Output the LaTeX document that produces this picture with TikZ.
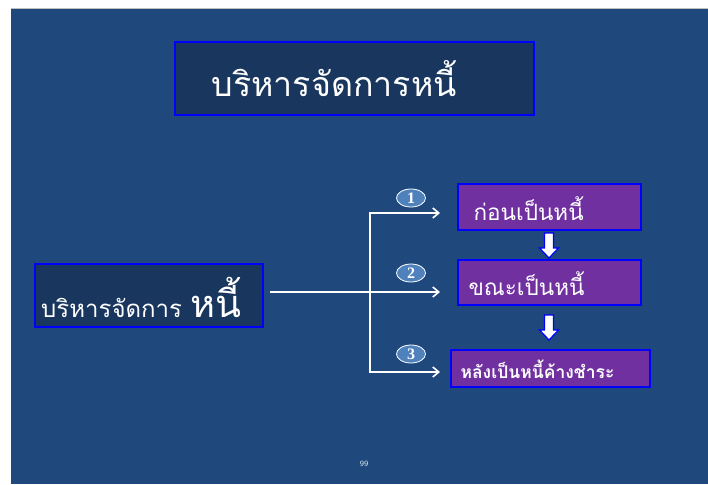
\documentclass[tikz,border=0pt]{standalone}
\usepackage{fontspec}
\usetikzlibrary{shapes.geometric,arrows.meta}
\newfontfamily\thai[Script=Thai]{Loma}
\setmainfont{Liberation Serif}
\definecolor{bgblue}{RGB}{31,73,125}
\definecolor{darkbox}{RGB}{24,54,94}
\definecolor{purp}{RGB}{112,48,160}
\definecolor{circ}{RGB}{79,129,189}
\definecolor{bord}{RGB}{0,0,255}
\begin{document}
\begin{tikzpicture}[x=1pt,y=-1pt,
  darkrect/.style={draw=bord,line width=1.6pt,fill=darkbox},
  purprect/.style={draw=bord,line width=1.2pt,fill=purp},
  conn/.style={draw=white,line width=1.6pt},
  arr/.style={conn,-{Straight Barb[length=6pt,width=10pt,line width=1.6pt]}},
  numc/.style={ellipse,draw=white,line width=0.8pt,fill=circ,minimum width=29pt,minimum height=18pt,inner sep=0pt,text=white,font=\bfseries\fontsize{16}{16}\selectfont},
  dnarrow/.style={draw=bord,line width=1.2pt,fill=white,line join=miter}
]
\useasboundingbox (0,0) rectangle (708,484);
\fill[white] (0,0) rectangle (708,484);
\fill[bgblue] (11,8) rectangle (708,484);
\draw[gray!50,line width=0.6pt] (11,8.3) -- (708,8.3);
% title
\draw[darkrect] (175,42) rectangle (534,115);
\node[text=white,anchor=west,font=\thai\fontsize{34}{34}\selectfont] (title) at (208,79) {บริหารจัดการหนี้};
% left box
\draw[darkrect] (35,264) rectangle (263,327);
\node[text=white,anchor=west,inner sep=0pt] (left) at (41,297) {\thai\fontsize{24}{24}\selectfont บริหารจัดการ \fontsize{38}{38}\selectfont หนี้};
% purple boxes
\draw[purprect] (458,184) rectangle (641,230);
\node[text=white,anchor=west,font=\thai\fontsize{22.5}{22.5}\selectfont] (b1) at (470,209) {ก่อนเป็นหนี้};
\draw[purprect] (458,260) rectangle (641,305);
\node[text=white,anchor=west,font=\thai\fontsize{22.5}{22.5}\selectfont] (b2) at (465,284) {ขณะเป็นหนี้};
\draw[purprect] (451,350) rectangle (650,387);
\node[text=white,anchor=west,font=\thai\bfseries\fontsize{17.5}{17.5}\selectfont] (b3) at (457,369) {หลังเป็นหนี้ค้างชำระ};
% connectors
\coordinate (s) at (270,292);
\coordinate (j) at (370,292);
\coordinate (t) at (370,213);
\coordinate (bt) at (370,372);
\coordinate (e1) at (440,213);
\coordinate (e2) at (440,292);
\coordinate (e3) at (440,372);
\draw[conn] (s) -- (j);
\draw[conn,line cap=rect] (t) -- (bt);
\draw[arr] (t) -- (e1);
\draw[arr] (j) -- (e2);
\draw[arr] (bt) -- (e3);
% numbers
\node[numc] (n1) at (411,198) {1};
\node[numc] (n2) at (411,273) {2};
\node[numc] (n3) at (411,354) {3};
% down arrows
\coordinate (d1) at (549,233);
\coordinate (d2) at (549,315);
\foreach \d in {d1,d2}
  \draw[dnarrow] (\d) ++(-4.5,0) -- ++(9,0) -- ++(0,15) -- ++(5,0) -- ++(-9.5,10) -- ++(-9.5,-10) -- ++(5,0) -- cycle;
% page number
\node[text=white!85!bgblue,font=\sffamily\fontsize{8}{8}\selectfont] (pg) at (364,464) {99};
\end{tikzpicture}
\end{document}
